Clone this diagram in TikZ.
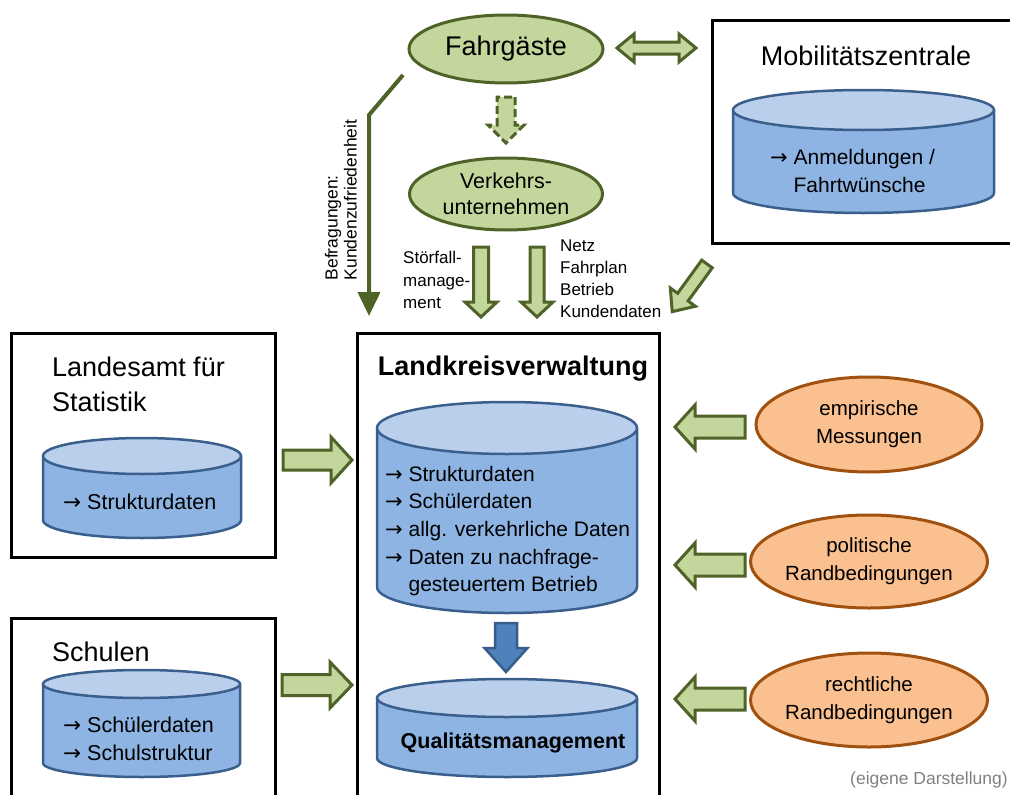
\documentclass[tikz,border=0pt]{standalone}
\usepackage{fontspec}
\setmainfont{Liberation Sans}
\newfontfamily\arrfont{DejaVu Sans}
\usetikzlibrary{shapes.geometric,arrows.meta}
\definecolor{gfill}{HTML}{C3D69B}
\definecolor{gline}{HTML}{4F6228}
\definecolor{ofill}{HTML}{FAC090}
\definecolor{oline}{HTML}{A0500F}
\definecolor{cbody}{HTML}{8EB4E3}
\definecolor{ctop}{HTML}{B9CFEB}
\definecolor{cline}{HTML}{3A5F8D}
\definecolor{bfill}{HTML}{4F81BD}
\definecolor{bline}{HTML}{385D8A}
\newcommand\fs[2]{\fontsize{#1}{#2}\selectfont}
\newcommand\ar{{\arrfont →}}
% block arrow: style, tail point, angle, length, shaft half, head half, head length
\newcommand\blockarr[7]{%
  \begin{scope}[shift={#2},rotate=#3]
    \draw[#1] (0,-#5) -- ({#4-#7},-#5) -- ({#4-#7},-#6) -- (#4,0) -- ({#4-#7},#6) -- ({#4-#7},#5) -- (0,#5) -- cycle;
  \end{scope}}
% cylinder: cx, rx, ytop, ybottom, ry
\newcommand\cyl[5]{%
  \draw[cylbody] ({#1-#2},#3) -- ({#1-#2},#4) arc[start angle=180,end angle=360,x radius=#2pt,y radius=#5pt] -- ({#1+#2},#3) -- cycle;
  \draw[cyltop] (#1,#3) ellipse[x radius=#2pt,y radius=#5pt];}
\tikzset{
  box/.style={draw=black,line width=3pt,rectangle,inner sep=0pt},
  gell/.style={ellipse,draw=gline,fill=gfill,line width=3pt,inner sep=0pt,align=center},
  oell/.style={ellipse,draw=oline,fill=ofill,line width=3pt,inner sep=0pt,align=center,font=\fs{20.5}{28}},
  cylbody/.style={draw=cline,fill=cbody,line width=2.5pt,line join=round},
  cyltop/.style={draw=cline,fill=ctop,line width=2.5pt},
  garrow/.style={draw=gline,fill=gfill,line width=3pt,line join=miter},
  barr/.style={draw=bline,fill=bfill,line width=2.5pt,line join=miter},
  lbl/.style={inner sep=0pt,align=left},
}
\begin{document}
\begin{tikzpicture}[x=1pt,y=-1pt]
\useasboundingbox (0,0) rectangle (1010,795);
% boxes
\node[box,minimum width=308,minimum height=223] (mobil) at (866,131.5) {};
\node[box,minimum width=264,minimum height=224] (lsa) at (143,445) {};
\node[box,minimum width=302,minimum height=472] (lkv) at (508,569) {};
\node[box,minimum width=264,minimum height=187] (schulen) at (143,711.5) {};
% titles
\node[lbl,font=\fs{27}{34}] (mobilT) at (866,56) {Mobilitätszentrale};
\node[lbl,font=\fs{27}{35},anchor=west] (lsaT) at (52,384.5) {Landesamt für\\Statistik};
\node[lbl,font=\bfseries\fs{27}{32}] (lkvT) at (513,369) {Landkreisverwaltung};
\node[lbl,font=\fs{27}{32},anchor=west] (schulenT) at (52,652) {Schulen};
% cylinders
\cyl{863.5}{130.5}{110}{193}{20}
\node[lbl,font=\fs{21}{28},anchor=west] (mobilD) at (770,171) {\ar{} Anmeldungen /\\\phantom{\ar{} }Fahrtwünsche};
\cyl{142}{99}{456}{520}{18}
\node[lbl,font=\fs{21.5}{28},anchor=west] (lsaD) at (63,502) {\ar{} Strukturdaten};
\cyl{507}{130}{428}{587}{26}
\node[lbl,font=\fs{21}{27.7},anchor=west] (lkvD) at (385,531) {\ar{} Strukturdaten\\\ar{} Schülerdaten\\\ar{} allg. verkehrliche Daten\\\ar{} Daten zu nachfrage-\\\phantom{\ar{} }gesteuertem Betrieb};
\cyl{141.5}{98.5}{684}{763}{14}
\node[lbl,font=\fs{21.5}{28},anchor=west] (schulenD) at (63,739) {\ar{} Schülerdaten\\\ar{} Schulstruktur};
\cyl{507}{130}{698}{758}{19}
\node[lbl,font=\bfseries\fs{21.5}{26}] (qm) at (513,743) {Qualitätsmanagement};
% blue arrow
\blockarr{barr}{(506,623)}{-90}{49}{11}{21.5}{24}
% green ellipses
\node[gell,minimum width=194,minimum height=68,font=\fs{27}{32}] (fg) at (506,49) {Fahrgäste};
\node[gell,minimum width=193,minimum height=72,font=\fs{21.5}{26}] (vu) at (506,194) {Verkehrs-\\unternehmen};
% orange ellipses
\node[oell,minimum width=226,minimum height=95] (emp) at (869,424.5) {empirische\\Messungen};
\node[oell,minimum width=226,minimum height=93] (pol) at (869,561.5) {politische\\Randbedingungen};
\node[oell,minimum width=226,minimum height=94] (rec) at (869,700) {rechtliche\\Randbedingungen};
% green block arrows
\draw[garrow] (617,48) -- (634,34) -- (634,42) -- (679,42) -- (679,34) -- (696,48) -- (679,62) -- (679,54) -- (634,54) -- (634,62) -- cycle;
\blockarr{garrow,dash pattern=on 8pt off 4pt}{(506,97)}{-90}{46}{9}{18}{18}
\blockarr{garrow}{(481,247)}{-90}{70}{7.5}{16}{15}
\blockarr{garrow}{(537,247)}{-90}{70}{7}{16}{15}
\blockarr{garrow}{(707,264)}{233.9}{59}{6.5}{15.5}{18}
\blockarr{garrow}{(283,460)}{0}{69}{10}{23}{21}
\blockarr{garrow}{(282,685)}{0}{70}{10.5}{23}{22}
\blockarr{garrow}{(745,427)}{180}{70}{11}{22}{20}
\blockarr{garrow}{(745,565)}{180}{70}{11}{22}{20}
\blockarr{garrow}{(745,699)}{180}{70}{11}{22}{20}
% Befragungen connector
\coordinate (b0) at (403,75);
\coordinate (b1) at (369,115);
\coordinate (b2) at (369,316);
\draw[gline,line width=4pt,-{Triangle[width=22pt,length=24pt]}] (b0) -- (b1) -- (b2);
\node[lbl,rotate=90,font=\fs{17.5}{19}] (befr) at (341,200) {Befragungen:\\Kundenzufriedenheit};
% small labels
\node[lbl,font=\fs{17}{22.5},anchor=west] (stoer) at (403,280) {Störfall-\\manage-\\ment};
\node[lbl,font=\fs{17}{22},anchor=west] (netz) at (560,279) {Netz\\Fahrplan\\Betrieb\\Kundendaten};
\node[lbl,font=\fs{17.5}{20},anchor=east,text=black!50] (src) at (1008,780) {(eigene Darstellung)};
\end{tikzpicture}
\end{document}
